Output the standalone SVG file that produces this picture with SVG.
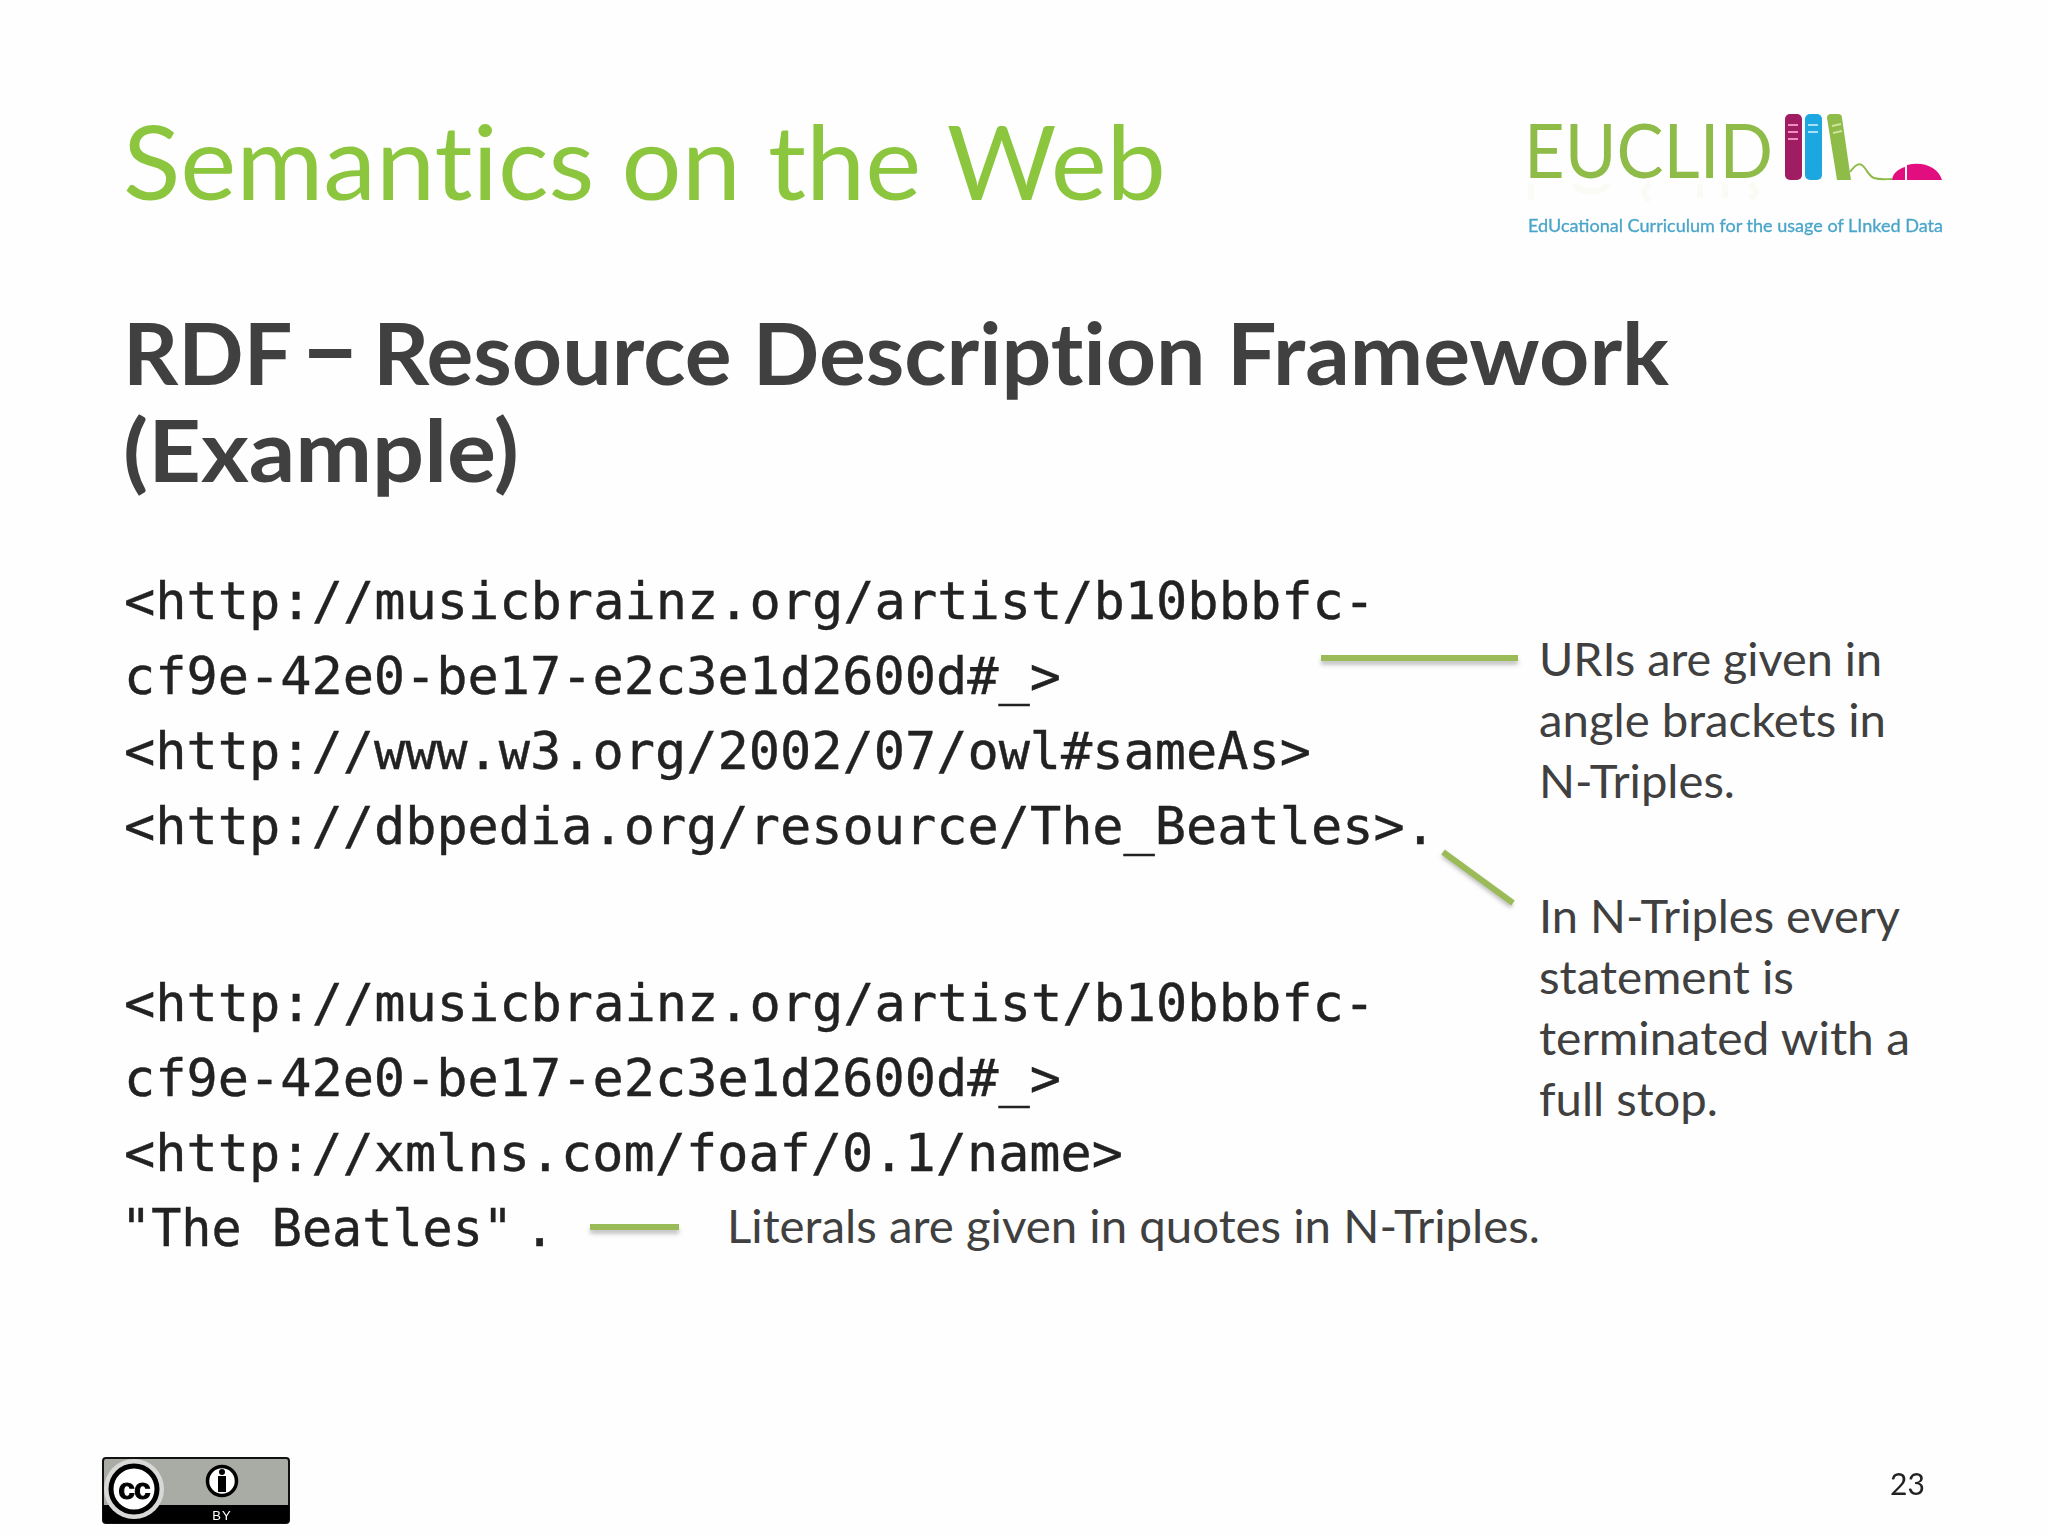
<svg xmlns="http://www.w3.org/2000/svg" width="2048" height="1536" viewBox="0 0 2048 1536">
<defs>
<style>
.t{font-family:Lato,"Open Sans",sans-serif;font-variant-ligatures:none}
.title{font-size:103px;fill:#8cc63f}
.h{font-size:86px;font-weight:700;fill:#404040}
.m{font-family:"DejaVu Sans Mono","Liberation Mono",monospace;font-size:52px;fill:#222;stroke:#222;stroke-width:.4}
.n{font-size:46px;fill:#404040}
.c{fill:none;stroke:#9bbb59;stroke-width:6}
.sh{fill:none;stroke:#666;stroke-width:5;opacity:.45}
</style>
<filter id="s" x="-20%" y="-200%" width="140%" height="500%"><feGaussianBlur stdDeviation="2"/></filter>
<filter id="b" x="-5%" y="-5%" width="110%" height="110%"><feGaussianBlur stdDeviation="0.6"/></filter>
</defs>
<rect width="2048" height="1536" fill="#fefefe"/>
<g id="title"><text class="t title" x="123" y="200" textLength="1043" lengthAdjust="spacingAndGlyphs">Semantics on the Web</text></g>
<g id="logo" filter="url(#b)">
<g opacity=".04" stroke="#8fbc3f" stroke-width="6" fill="none"><path d="M1531 184v16M1575 184c2 10 30 10 32 0M1650 184c-8 6-8 12 0 16M1700 184v14M1725 184v14M1750 184c8 6 8 10 0 14"/></g>
<text x="1524" y="178" font-family="Lato,sans-serif" font-size="76" fill="#8fbc4a" textLength="249" lengthAdjust="spacingAndGlyphs">EUCLID</text>
<rect x="1785" y="114" width="17" height="66" rx="5" fill="#a01c64"/>
<rect x="1805" y="114" width="17" height="66" rx="5" fill="#1ea7e0"/>
<path d="M1827 118a4 4 0 0 1 4-4h7a4 4 0 0 1 4 4l9 62h-14z" fill="#8fbc4a"/>
<path d="M1788 125h10M1788 132h10M1788 139h10" stroke="#f08cc4" stroke-width="2"/>
<path d="M1808 125h10M1808 132h10" stroke="#a6e0f5" stroke-width="2"/>
<path d="M1832 126l9-2M1833 133l9-2" stroke="#cbe59a" stroke-width="2"/>
<path d="M1850 172c6-8 10-10 14-5s6 10 10 11c6 2 12 1 18 1" fill="none" stroke="#8fbc4a" stroke-width="2"/>
<path d="M1892 180c1-7 6-11 13-13v13zM1907 165c16-4 31 2 35 15h-35z" fill="#e2117e"/>
<text x="1528" y="232" font-family="Lato,sans-serif" font-size="17" fill="#4aa5c9" stroke="#4aa5c9" stroke-width=".3" textLength="415" lengthAdjust="spacingAndGlyphs">EdUcational Curriculum for the usage of LInked Data</text>
</g>
<g id="heading">
<text class="t h" y="385"><tspan x="123">RDF</tspan> <tspan x="300" font-size="104">–</tspan> <tspan x="373" textLength="1296" lengthAdjust="spacingAndGlyphs">Resource Description Framework</tspan></text>
<text class="t h" x="123" y="482" textLength="396" lengthAdjust="spacingAndGlyphs">(Example)</text>
</g>
<g id="triple1">
<text class="m" x="124" y="619" textLength="1251" lengthAdjust="spacingAndGlyphs">&lt;http://musicbrainz.org/artist/b10bbbfc-</text>
<text class="m" x="124" y="694" textLength="937" lengthAdjust="spacingAndGlyphs">cf9e-42e0-be17-e2c3e1d2600d#_&gt;</text>
<text class="m" x="124" y="769" textLength="1187" lengthAdjust="spacingAndGlyphs">&lt;http://www.w3.org/2002/07/owl#sameAs&gt;</text>
<text class="m" x="124" y="844" textLength="1312" lengthAdjust="spacingAndGlyphs">&lt;http://dbpedia.org/resource/The_Beatles&gt;.</text>
</g>
<g id="triple2">
<text class="m" x="124" y="1021" textLength="1251" lengthAdjust="spacingAndGlyphs">&lt;http://musicbrainz.org/artist/b10bbbfc-</text>
<text class="m" x="124" y="1096" textLength="937" lengthAdjust="spacingAndGlyphs">cf9e-42e0-be17-e2c3e1d2600d#_&gt;</text>
<text class="m" x="124" y="1171" textLength="999" lengthAdjust="spacingAndGlyphs">&lt;http://xmlns.com/foaf/0.1/name&gt;</text>
<text class="m" y="1246"><tspan x="121" textLength="392" lengthAdjust="spacingAndGlyphs">"The Beatles"</tspan> <tspan x="524">.</tspan></text>
</g>
<g id="note1">
<text class="t n" x="1539" y="676" textLength="343" lengthAdjust="spacingAndGlyphs">URIs are given in</text>
<text class="t n" x="1539" y="737" textLength="347" lengthAdjust="spacingAndGlyphs">angle brackets in</text>
<text class="t n" x="1539" y="798" textLength="196" lengthAdjust="spacingAndGlyphs">N-Triples.</text>
</g>
<g id="note2">
<text class="t n" x="1539" y="933" textLength="361" lengthAdjust="spacingAndGlyphs">In N-Triples every</text>
<text class="t n" x="1539" y="994" textLength="255" lengthAdjust="spacingAndGlyphs">statement is</text>
<text class="t n" x="1539" y="1055" textLength="371" lengthAdjust="spacingAndGlyphs">terminated with a</text>
<text class="t n" x="1539" y="1116" textLength="179" lengthAdjust="spacingAndGlyphs">full stop.</text>
</g>
<g id="note3"><text class="t n" x="727" y="1243" textLength="813" lengthAdjust="spacingAndGlyphs">Literals are given in quotes in N-Triples.</text></g>
<g id="connectors">
<g filter="url(#s)">
<path class="sh" d="M1321 662H1518"/>
<path class="sh" d="M1443 855L1512 906"/>
<path class="sh" d="M590 1231H679"/>
</g>
<path class="c" d="M1321 658H1518"/>
<path class="c" d="M1443 852L1513 903"/>
<path class="c" d="M590 1227H679"/>
</g>
<g id="cc">
<rect x="103" y="1458" width="186" height="65" rx="3" fill="#a9aca5" stroke="#111" stroke-width="2"/>
<path d="M103 1505H289V1520a3 3 0 0 1-3 3H106a3 3 0 0 1-3-3z" fill="#000"/>
<circle cx="134" cy="1489" r="30" fill="#d8d9d6"/>
<circle cx="134" cy="1489" r="23" fill="#fff" stroke="#000" stroke-width="5"/>
<text x="134" y="1499" text-anchor="middle" font-family="Liberation Sans,sans-serif" font-weight="700" font-size="30" fill="#000" stroke="#000" stroke-width="1" letter-spacing="-1">cc</text>
<circle cx="222" cy="1481" r="14.5" fill="#fff" stroke="#000" stroke-width="3.5"/>
<circle cx="222" cy="1472" r="3" fill="#000"/>
<rect x="218" y="1476" width="8" height="16" fill="#000"/>
<text x="222" y="1520" text-anchor="middle" font-family="Liberation Sans,sans-serif" font-size="13" fill="#fff" letter-spacing="1">BY</text>
</g>
<g id="page"><text class="t" x="1890" y="1495" font-size="30" fill="#222">23</text></g>
</svg>
